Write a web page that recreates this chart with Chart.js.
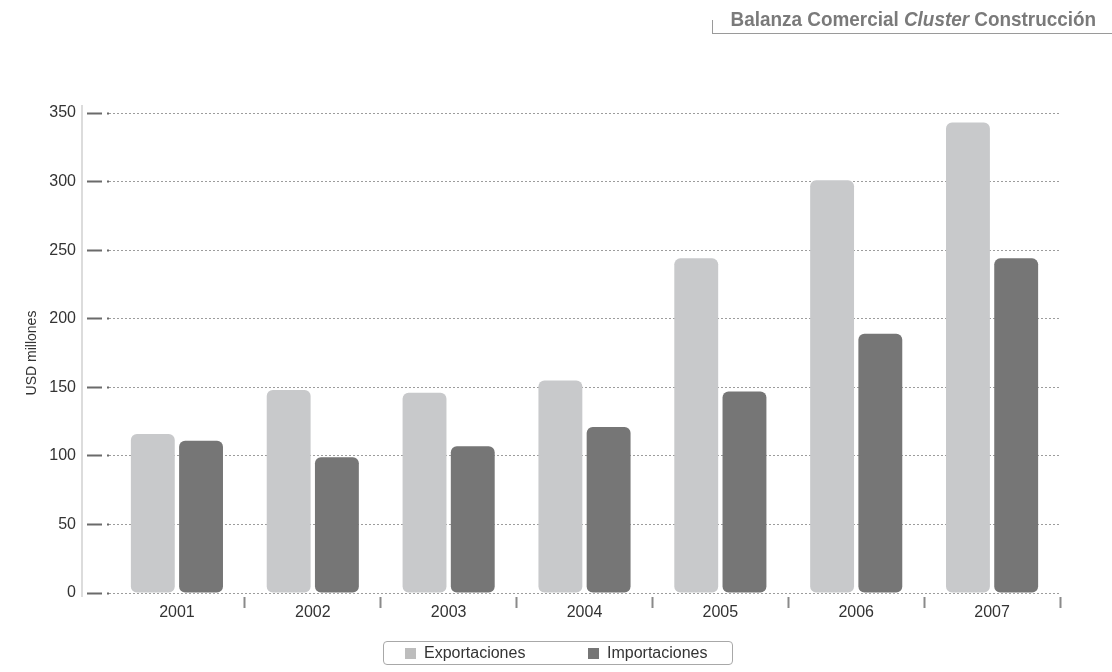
<!DOCTYPE html>
<html>
<head>
<meta charset="utf-8">
<script src="https://cdn.jsdelivr.net/npm/chart.js@4/dist/chart.umd.min.js"></script>
<style>
  html, body { margin: 0; padding: 0; background: #fff; }
  #wrap { position: relative; width: 1112px; height: 672px; }
  #chart { position: absolute; left: 0; top: 0; }
  #title {
    position: absolute; left: 712px; top: 20px; width: 399px; height: 13px;
    border-left: 1px solid #9a9a9a; border-bottom: 1px solid #9a9a9a;
  }
  #title span.t {
    position: absolute; right: 16px; top: -13px; white-space: nowrap;
    font-family: 'Liberation Sans', Arial, sans-serif;
    font-weight: bold; font-size: 21px; color: #7a7a7a;
    transform: scaleX(0.9); transform-origin: right center;
  }
  #legend {
    position: absolute; left: 383px; top: 641px; width: 348px; height: 22px;
    border: 1px solid #a8a8a8; border-radius: 4px;
    font-family: 'Liberation Sans', sans-serif; font-size: 16px; color: #333;
  }
  #legend .item { position: absolute; top: 2px; line-height: 18px; white-space: nowrap; }
  #legend .sw { display: inline-block; width: 11px; height: 11px; margin-right: 8px; vertical-align: -1px; }
</style>
</head>
<body>
<div id="wrap">
  <canvas id="chart" width="1112" height="672"></canvas>
  <div id="title"><span class="t">Balanza Comercial <i>Cluster</i> Construcción</span></div>
  <div id="legend">
    <span class="item" style="left:21px"><span class="sw" style="background:#bdbdbd"></span>Exportaciones</span>
    <span class="item" style="left:204px"><span class="sw" style="background:#767676"></span>Importaciones</span>
  </div>
</div>
<script>
const years = ['2001', '2002', '2003', '2004', '2005', '2006', '2007'];
const exportaciones = [116, 148, 146, 155, 244, 301, 343];
const importaciones = [111, 99, 107, 121, 147, 189, 244];
const yTicks = [0, 50, 100, 150, 200, 250, 300, 350];
const seriesNames = ['Exportaciones', 'Importaciones'];
const yTitle = 'USD millones';

const axisBar = {
  id: 'axisBar',
  afterDraw(chart) {
    const y = chart.scales.y;
    const ctx = chart.ctx;
    const x = y.right - 27;
    ctx.save();
    ctx.strokeStyle = '#dcdcdc';
    ctx.lineWidth = 2;
    ctx.beginPath();
    ctx.moveTo(x, y.getPixelForValue(350) - 8);
    ctx.lineTo(x, y.getPixelForValue(0) + 4);
    ctx.stroke();
    ctx.restore();
  }
};

new Chart(document.getElementById('chart'), {
  type: 'bar',
  data: {
    labels: years,
    datasets: [
      { label: seriesNames[0], data: exportaciones, backgroundColor: '#c8c9cb',
        borderRadius: 6, borderSkipped: false, categoryPercentage: 0.71, barPercentage: 0.91 },
      { label: seriesNames[1], data: importaciones, backgroundColor: '#767676',
        borderRadius: 6, borderSkipped: false, categoryPercentage: 0.71, barPercentage: 0.91 }
    ]
  },
  options: {
    responsive: false,
    animation: false,
    layout: { padding: { top: 113, right: 52, left: 0, bottom: 0 } },
    plugins: { legend: { display: false }, tooltip: { enabled: false } },
    scales: {
      x: {
        afterFit(s) { s.height = 79; },
        border: { display: false },
        grid: {
          offset: true, drawOnChartArea: false, drawTicks: true, tickLength: 15,
          tickWidth: 2,
          tickColor: (c) => (c.index === 0 ? 'rgba(0,0,0,0)' : '#8a8a8a'),
          tickBorderDash: [0, 4, 11, 100]
        },
        ticks: { padding: -5, color: '#333', font: { family: "'Liberation Sans', sans-serif", size: 16 } }
      },
      y: {
        min: 0, max: 350,
        afterFit(s) { s.width = 109; },
        afterBuildTicks(s) { s.ticks = yTicks.map(v => ({ value: v })); },
        border: { display: false, dash: [2, 2] },
        grid: {
          color: '#9c9c9c', lineWidth: 1,
          drawTicks: true, tickLength: 22, tickColor: '#6a6a6a', tickWidth: 2,
          tickBorderDash: [15, 5, 2, 2]
        },
        ticks: { padding: 11, color: '#333', font: { family: "'Liberation Sans', sans-serif", size: 16 } },
        title: {
          display: true, text: yTitle, color: '#333', padding: { top: 24, bottom: 0 },
          font: { family: "'Liberation Sans', sans-serif", size: 14 }
        }
      }
    }
  },
  plugins: [axisBar]
});
</script>
</body>
</html>
